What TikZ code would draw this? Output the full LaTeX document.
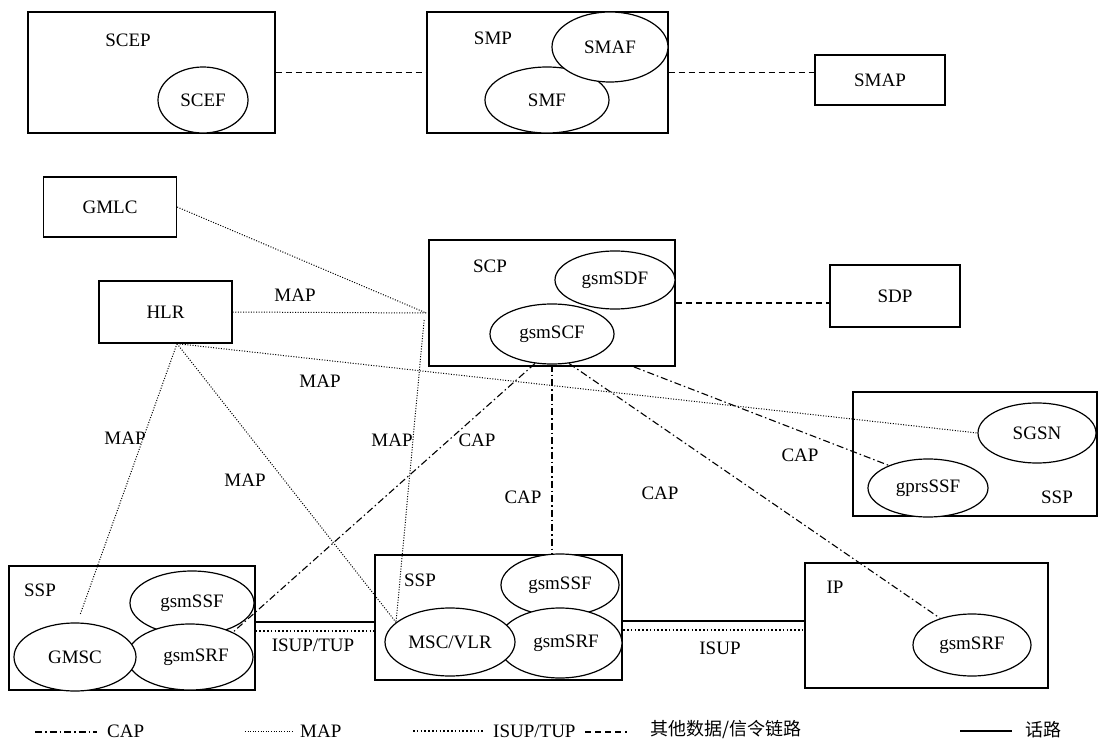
\documentclass[tikz,border=0pt]{standalone}
\usepackage{fontspec}
\setmainfont{Liberation Serif}
\newfontfamily\cjk{Noto Sans CJK SC}
\usetikzlibrary{shapes.geometric,calc}
\begin{document}
\begin{tikzpicture}[x=1pt,y=-1pt,
  every node/.style={font=\fontsize{19}{21}\selectfont, inner sep=0pt},
  box/.style={draw, line width=1.3pt, fill=white},
  tbox/.style={draw, line width=2.4pt, fill=white},
  fn/.style={ellipse, draw, line width=1.2pt, fill=white},
  capline/.style={line width=1.1pt, dash pattern=on 7pt off 3pt on 1.5pt off 3pt},
  mapline/.style={line width=1pt, dash pattern=on 1pt off 1.6pt},
  isupline/.style={line width=1.8pt, dash pattern=on 1.6pt off 2.2pt},
  othline/.style={line width=1.4pt, dash pattern=on 6pt off 4pt},
  voiceline/.style={line width=1.3pt}]
\useasboundingbox (0,0) rectangle (1101,746);

% ---- top row
\node[box, minimum width=247, minimum height=121] (scep) at (151.5,72.5) {};
\node (scepl) at (128,40) {SCEP};
\node[fn, minimum width=90, minimum height=66] (scef) at (203,100) {SCEF};

\node[box, minimum width=241, minimum height=121] (smp) at (547.5,72.5) {};
\node (smpl) at (493,38) {SMP};
\node[fn, minimum width=124, minimum height=66] (smf) at (547,100) {SMF};
\node[fn, minimum width=116, minimum height=70] (smaf) at (610,47) {SMAF};

\node[box, minimum width=130, minimum height=50] (smap) at (880,80) {SMAP};

% ---- middle
\node[box, minimum width=133, minimum height=60] (gmlc) at (110,207) {GMLC};
\node[box, minimum width=133, minimum height=62] (hlr) at (165.5,312) {HLR};

\node[box, line width=1.8pt, minimum width=246, minimum height=126] (scp) at (552,303) {};
\node (scpl) at (490,266) {SCP};
\node[fn, minimum width=120, minimum height=58] (sdf) at (615,280) {gsmSDF};
\node[fn, minimum width=124, minimum height=60] (scf) at (552,334) {gsmSCF};

\node[box, minimum width=130, minimum height=62] (sdp) at (895,296) {SDP};

\node[tbox, minimum width=244, minimum height=124] (rssp) at (975,454) {};
\node[fn, minimum width=118, minimum height=60] (sgsn) at (1037,433) {SGSN};
\node[fn, minimum width=120, minimum height=58] (gprs) at (928,488) {gprsSSF};
\node (rsspl) at (1057,497) {SSP};

% ---- bottom
\node[box, minimum width=246, minimum height=124] (lssp) at (132,628) {};
\node (lsspl) at (40,590) {SSP};
\node[fn, minimum width=124, minimum height=64] (lssf) at (192,603) {gsmSSF};
\node[fn, minimum width=126, minimum height=66] (lsrf) at (190,657) {\hspace{12pt}gsmSRF};
\node[fn, minimum width=122, minimum height=68] (gmsc) at (75,657) {GMSC};

\node[tbox, minimum width=247, minimum height=125] (mssp) at (498.5,617.5) {};
\node (msspl) at (420,580) {SSP};
\node[fn, minimum width=118, minimum height=62] (mssf) at (560,585) {gsmSSF};
\node[fn, minimum width=124, minimum height=70] (msrf) at (560,643) {\hspace{12pt}gsmSRF};
\node[fn, minimum width=130, minimum height=68] (msc) at (450,642) {MSC/VLR};

\node[box, minimum width=243, minimum height=125] (ip) at (926.5,625.5) {};
\node (ipl) at (835,587) {IP};
\node[fn, minimum width=118, minimum height=62] (ipsrf) at (972,645) {gsmSRF};

% ---- other data links
\draw[othline] (scep.east) -- (smp.west);
\draw[othline] (smp.east) -- (smap.west |- smp.east);
\draw[othline] (scp.east) -- (sdp.west |- scp.east);

% ---- MAP
\coordinate (scpin) at ($(scp.west)+(-2,10)$);
\coordinate (scpdn) at ($(scp.west)+(-4,17)$);
\coordinate (hub) at (hlr.-70);
\coordinate (gmscend) at (80,615);
\draw[mapline] (gmlc.east) -- (scpin);
\draw[mapline] (hlr.east) -- (scpin);
\draw[mapline] (hub) -- (sgsn.west);
\draw[mapline] (hub) -- (gmscend);
\draw[mapline] (hub) -- (msc.160);
\draw[mapline] (scpdn) -- (msc.160);
\node (m1) at (295,295) {MAP};
\node (m2) at (320,381) {MAP};
\node (m3) at (125,438) {MAP};
\node (m4) at (245,480) {MAP};
\node (m5) at (392,440) {MAP};

% ---- CAP
\draw[capline] (scf.-120) -- (lsrf.30);
\draw[capline] (scf.south) -- (scf.south |- mssp.north);
\draw[capline] (scf.-60) -- (ipsrf.140);
\draw[capline] ($(scp.south east)+(-42,0)$) -- (gprs.150);
\node (c1) at (477,440) {CAP};
\node (c2) at (523,497) {CAP};
\node (c3) at (660,493) {CAP};
\node (c4) at (800,455) {CAP};

% ---- voice and ISUP
\draw[voiceline] (lssp.east |- 0,622) -- (mssp.west |- 0,622);
\draw[isupline] (lssp.east |- 0,631) -- (mssp.west |- 0,631);
\draw[voiceline] (mssp.east |- 0,621) -- (ip.west |- 0,621);
\draw[isupline] (mssp.east |- 0,630) -- (ip.west |- 0,630);
\node (i1) at (313,645) {ISUP/TUP};
\node (i2) at (720,648) {ISUP};

% ---- legend
\coordinate (la1) at (35,732); \coordinate (la2) at (97,732);
\coordinate (lb1) at (245,731); \coordinate (lb2) at (292,731);
\coordinate (lc1) at (413,731); \coordinate (lc2) at (485,731);
\coordinate (ld1) at (585,732); \coordinate (ld2) at (627,732);
\coordinate (le1) at (960,731); \coordinate (le2) at (1012,731);
\draw[capline] (la1) -- (la2);
\draw[mapline] (lb1) -- (lb2);
\draw[isupline] (lc1) -- (lc2);
\draw[othline] (ld1) -- (ld2);
\draw[voiceline] (le1) -- (le2);
\node[anchor=west] (lta) at (107,731) {CAP};
\node[anchor=west] (ltb) at (300,731) {MAP};
\node[anchor=west] (ltc) at (493,731) {ISUP/TUP};
\node[anchor=west, font=\cjk\fontsize{18}{20}\selectfont] (ltd) at (650,730) {其他数据/信令链路};
\node[anchor=west, font=\cjk\fontsize{18}{20}\selectfont] (lte) at (1025,730) {话路};
\end{tikzpicture}
\end{document}
